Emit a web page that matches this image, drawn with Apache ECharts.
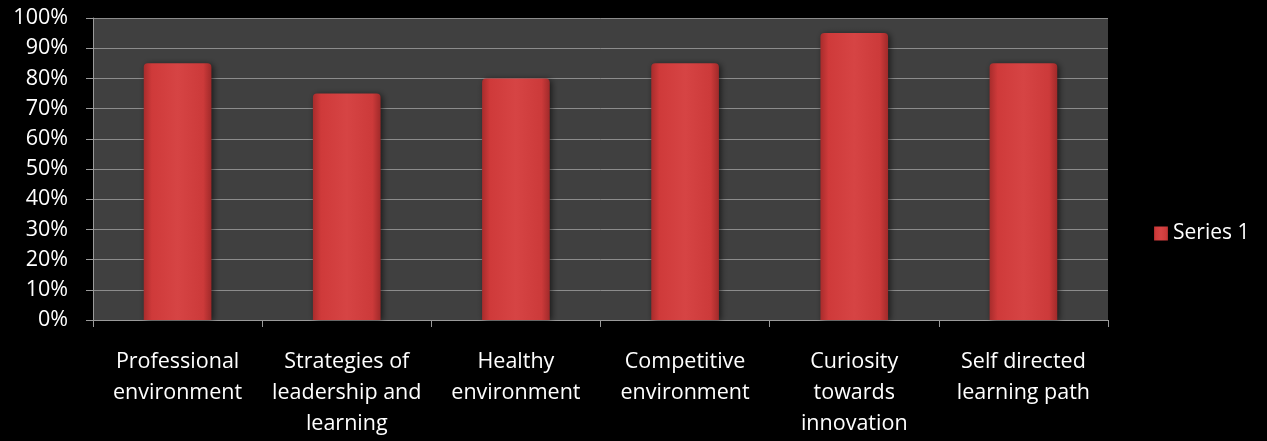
<!DOCTYPE html>
<html><head><meta charset="utf-8">
<script src="https://cdn.jsdelivr.net/npm/echarts@6/dist/echarts.min.js"></script>
<style>html,body{margin:0;padding:0;background:#000;}#c{width:1267px;height:441px;}</style>
</head><body><div id="c"></div>
<script>
const categories = ["Professional\nenvironment","Strategies of\nleadership and\nlearning","Healthy\nenvironment","Competitive\nenvironment","Curiosity\ntowards\ninnovation","Self directed\nlearning path"];
const series1 = [85, 75, 80, 85, 95, 85];
const seriesName = "Series 1";
const yTicks = {min: 0, max: 100, interval: 10};

const chart = echarts.init(document.getElementById('c'));
const barColor = new echarts.graphic.LinearGradient(0,0,1,0,[
  {offset:0,color:'#a82c2c'},{offset:0.12,color:'#cf3a3a'},{offset:0.5,color:'#d64444'},{offset:0.88,color:'#cc3a3a'},{offset:1,color:'#a02a2a'}]);
chart.setOption({
  backgroundColor:'#000',
  textStyle:{fontFamily:'Open Sans'},
  grid:{left:93,right:159,top:18,bottom:121,show:true,backgroundColor:'#404040',borderWidth:0},
  legend:{show:true,left:1149,top:218,itemWidth:14,itemHeight:14,itemGap:9,
    textStyle:{color:'#fff',fontSize:21,fontFamily:'Open Sans'},
    data:[{name:seriesName,icon:'rect'}]},
  xAxis:{type:'category',data:categories,
    axisLine:{show:true,lineStyle:{color:'#9a9a9a',width:1}},
    axisTick:{show:true,alignWithLabel:false,length:7,lineStyle:{color:'#9a9a9a'}},
    axisLabel:{color:'#fff',fontSize:21.5,lineHeight:31,margin:26,interval:0,fontFamily:'Open Sans'}},
  yAxis:{type:'value',min:yTicks.min,max:yTicks.max,interval:yTicks.interval,
    axisLine:{show:true,lineStyle:{color:'#9a9a9a'}},
    axisTick:{show:true,length:7,lineStyle:{color:'#9a9a9a'}},
    splitLine:{show:true,lineStyle:{color:'#8c8c8c',width:1}},
    axisLabel:{color:'#fff',fontSize:21.5,margin:25,formatter:v=>v+'%',fontFamily:'Open Sans'}},
  series:[{name:seriesName,type:'bar',data:series1,barWidth:'40%',
    itemStyle:{color:barColor,borderRadius:[4,4,0,0],shadowColor:'rgba(0,0,0,0.6)',shadowBlur:6,shadowOffsetX:2,shadowOffsetY:1}}]
});
</script></body></html>
